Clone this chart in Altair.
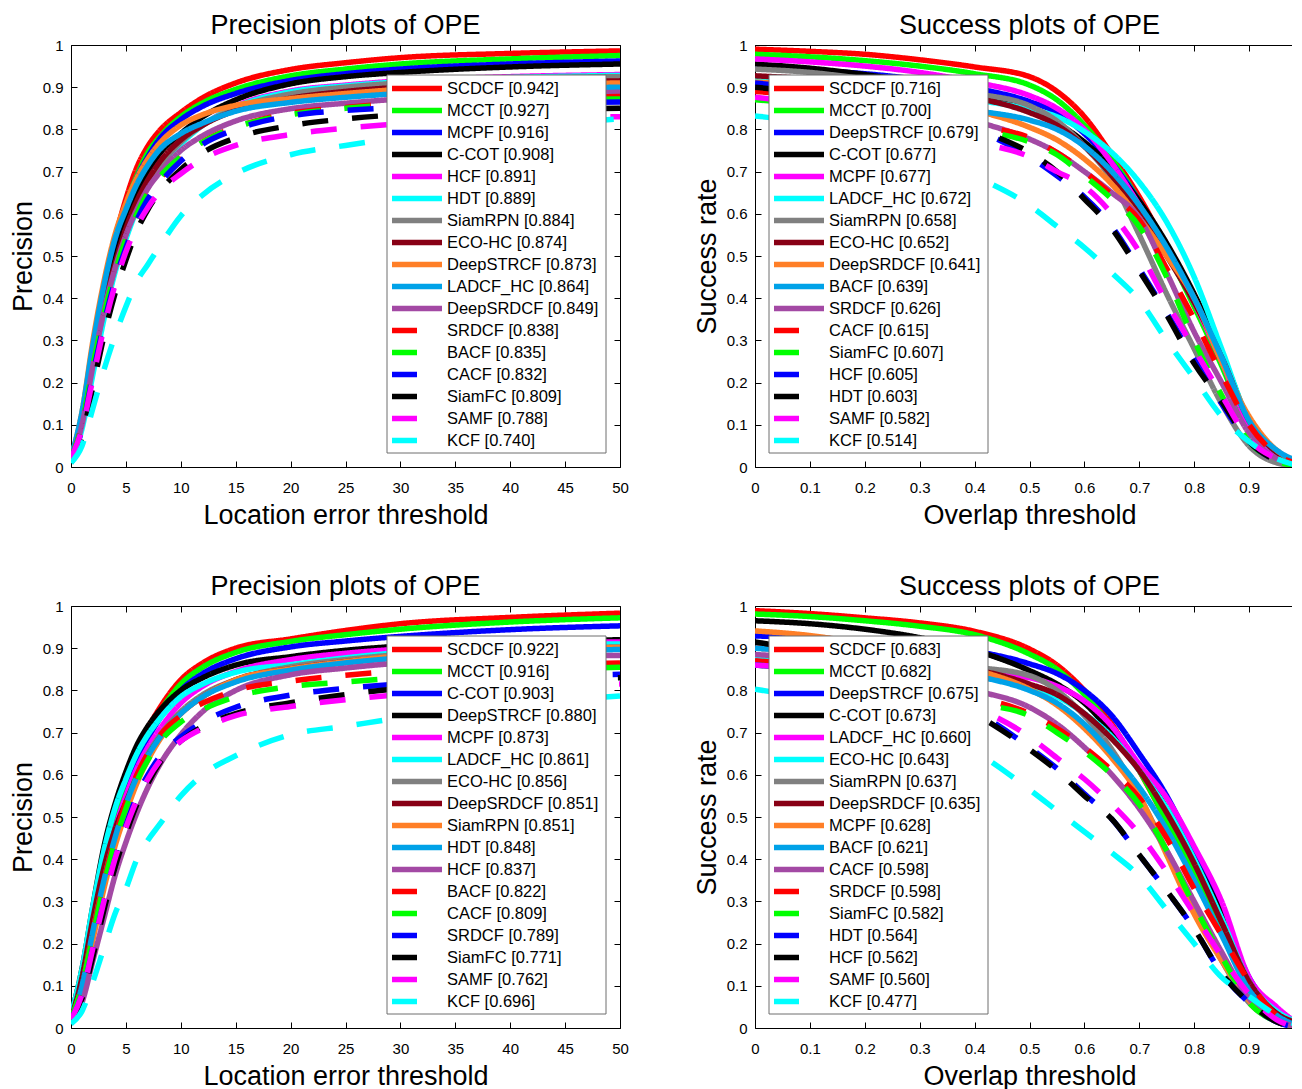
import altair as alt
import pandas as pd

FONT = "Liberation Sans"

# ---------------- styles by rank ----------------
RANK_COLORS = ["#FF0000", "#00FF00", "#0000FF", "#000000", "#FF00FF", "#00FFFF", "#808080",
               "#880015", "#FF7F27", "#00A2E8", "#A349A4",
               "#FF0000", "#00FF00", "#0000FF", "#000000", "#FF00FF", "#00FFFF"]
RANK_DASHED = [False] * 11 + [True] * 6

# ---------------- thresholds / ticks ----------------
PREC_T = [0, 1, 2, 3, 4, 5, 6, 7, 8, 10, 12, 15, 20, 25, 30, 40, 50]
SUCC_T = [0, 0.1, 0.2, 0.3, 0.4, 0.5, 0.55, 0.6, 0.65, 0.7, 0.75, 0.8, 0.85, 0.9, 0.95, 1.0]
PREC_XTICKS = [0, 5, 10, 15, 20, 25, 30, 35, 40, 45, 50]
SUCC_XTICKS = [0, 0.1, 0.2, 0.3, 0.4, 0.5, 0.6, 0.7, 0.8, 0.9, 1]
Y_TICKS = [0, 0.1, 0.2, 0.3, 0.4, 0.5, 0.6, 0.7, 0.8, 0.9, 1]

# ---------------- panel 1: precision (top-left) ----------------
P1_NAMES = ["SCDCF", "MCCT", "MCPF", "C-COT", "HCF", "HDT", "SiamRPN", "ECO-HC", "DeepSTRCF",
            "LADCF_HC", "DeepSRDCF", "SRDCF", "BACF", "CACF", "SiamFC", "SAMF", "KCF"]
P1_SCORES = [0.942, 0.927, 0.916, 0.908, 0.891, 0.889, 0.884, 0.874, 0.873, 0.864, 0.849,
             0.838, 0.835, 0.832, 0.809, 0.788, 0.740]
P1_CURVES = [
    [0.02, 0.12, 0.28, 0.42, 0.54, 0.635, 0.71, 0.76, 0.795, 0.84, 0.875, 0.91, 0.942, 0.958, 0.97, 0.98, 0.986],
    [0.02, 0.12, 0.27, 0.41, 0.53, 0.62, 0.69, 0.745, 0.78, 0.83, 0.863, 0.895, 0.927, 0.943, 0.955, 0.967, 0.975],
    [0.02, 0.12, 0.27, 0.41, 0.525, 0.615, 0.685, 0.735, 0.775, 0.823, 0.855, 0.885, 0.916, 0.932, 0.943, 0.955, 0.962],
    [0.02, 0.11, 0.25, 0.38, 0.49, 0.58, 0.65, 0.70, 0.74, 0.79, 0.83, 0.87, 0.908, 0.925, 0.935, 0.948, 0.955],
    [0.02, 0.10, 0.23, 0.36, 0.47, 0.55, 0.62, 0.67, 0.71, 0.77, 0.81, 0.855, 0.891, 0.905, 0.915, 0.925, 0.93],
    [0.01, 0.09, 0.22, 0.35, 0.46, 0.54, 0.61, 0.665, 0.705, 0.765, 0.81, 0.853, 0.889, 0.903, 0.913, 0.923, 0.928],
    [0.02, 0.11, 0.25, 0.37, 0.47, 0.55, 0.62, 0.67, 0.71, 0.77, 0.81, 0.85, 0.884, 0.90, 0.91, 0.92, 0.925],
    [0.02, 0.11, 0.26, 0.38, 0.48, 0.565, 0.63, 0.68, 0.72, 0.775, 0.81, 0.845, 0.874, 0.89, 0.90, 0.91, 0.915],
    [0.02, 0.13, 0.30, 0.44, 0.55, 0.625, 0.685, 0.73, 0.765, 0.81, 0.835, 0.857, 0.873, 0.885, 0.895, 0.905, 0.91],
    [0.02, 0.13, 0.29, 0.43, 0.54, 0.61, 0.67, 0.715, 0.75, 0.79, 0.815, 0.843, 0.864, 0.876, 0.885, 0.895, 0.90],
    [0.02, 0.10, 0.24, 0.37, 0.47, 0.55, 0.61, 0.66, 0.695, 0.75, 0.785, 0.82, 0.849, 0.862, 0.872, 0.882, 0.888],
    [0.02, 0.10, 0.23, 0.35, 0.45, 0.53, 0.595, 0.645, 0.68, 0.73, 0.77, 0.805, 0.838, 0.852, 0.862, 0.872, 0.878],
    [0.02, 0.10, 0.24, 0.36, 0.46, 0.54, 0.60, 0.65, 0.685, 0.735, 0.77, 0.805, 0.835, 0.85, 0.86, 0.868, 0.872],
    [0.02, 0.09, 0.22, 0.34, 0.44, 0.52, 0.585, 0.635, 0.67, 0.725, 0.765, 0.80, 0.832, 0.845, 0.852, 0.86, 0.865],
    [0.01, 0.07, 0.19, 0.31, 0.41, 0.49, 0.56, 0.61, 0.65, 0.705, 0.745, 0.78, 0.809, 0.825, 0.835, 0.845, 0.85],
    [0.02, 0.09, 0.21, 0.33, 0.43, 0.51, 0.57, 0.615, 0.65, 0.695, 0.73, 0.762, 0.788, 0.803, 0.813, 0.825, 0.83],
    [0.01, 0.05, 0.14, 0.23, 0.31, 0.38, 0.44, 0.48, 0.52, 0.595, 0.645, 0.695, 0.74, 0.762, 0.78, 0.805, 0.825],
]

# ---------------- panel 2: success (top-right) ----------------
P2_NAMES = ["SCDCF", "MCCT", "DeepSTRCF", "C-COT", "MCPF", "LADCF_HC", "SiamRPN", "ECO-HC",
            "DeepSRDCF", "BACF", "SRDCF", "CACF", "SiamFC", "HCF", "HDT", "SAMF", "KCF"]
P2_SCORES = [0.716, 0.700, 0.679, 0.677, 0.677, 0.672, 0.658, 0.652, 0.641, 0.639, 0.626,
             0.615, 0.607, 0.605, 0.603, 0.582, 0.514]
P2_CURVES = [
    [0.99, 0.985, 0.978, 0.965, 0.948, 0.925, 0.89, 0.83, 0.74, 0.64, 0.52, 0.39, 0.25, 0.10, 0.03, 0.0],
    [0.978, 0.972, 0.963, 0.95, 0.932, 0.905, 0.87, 0.81, 0.73, 0.63, 0.51, 0.38, 0.24, 0.09, 0.03, 0.0],
    [0.945, 0.94, 0.932, 0.918, 0.898, 0.866, 0.84, 0.79, 0.72, 0.63, 0.52, 0.40, 0.26, 0.11, 0.03, 0.0],
    [0.955, 0.945, 0.93, 0.91, 0.885, 0.845, 0.815, 0.77, 0.71, 0.63, 0.53, 0.41, 0.27, 0.11, 0.03, 0.0],
    [0.967, 0.96, 0.95, 0.935, 0.912, 0.88, 0.85, 0.80, 0.72, 0.62, 0.51, 0.39, 0.25, 0.10, 0.03, 0.0],
    [0.92, 0.915, 0.905, 0.89, 0.87, 0.848, 0.83, 0.795, 0.745, 0.675, 0.58, 0.45, 0.28, 0.11, 0.035, 0.005],
    [0.943, 0.935, 0.92, 0.905, 0.885, 0.856, 0.82, 0.76, 0.68, 0.55, 0.41, 0.28, 0.15, 0.05, 0.01, 0.0],
    [0.927, 0.92, 0.91, 0.895, 0.875, 0.84, 0.81, 0.76, 0.69, 0.60, 0.50, 0.39, 0.26, 0.11, 0.035, 0.01],
    [0.912, 0.905, 0.89, 0.87, 0.845, 0.805, 0.775, 0.73, 0.67, 0.59, 0.50, 0.40, 0.25, 0.12, 0.04, 0.01],
    [0.896, 0.89, 0.88, 0.865, 0.845, 0.822, 0.80, 0.76, 0.70, 0.62, 0.52, 0.40, 0.26, 0.11, 0.04, 0.01],
    [0.905, 0.895, 0.88, 0.855, 0.82, 0.777, 0.745, 0.70, 0.65, 0.59, 0.46, 0.32, 0.20, 0.08, 0.02, 0.005],
    [0.89, 0.88, 0.865, 0.84, 0.81, 0.78, 0.745, 0.70, 0.645, 0.585, 0.47, 0.35, 0.22, 0.10, 0.03, 0.005],
    [0.87, 0.86, 0.845, 0.825, 0.80, 0.77, 0.74, 0.69, 0.635, 0.57, 0.45, 0.30, 0.17, 0.06, 0.015, 0.0],
    [0.91, 0.895, 0.87, 0.84, 0.80, 0.735, 0.69, 0.64, 0.57, 0.47, 0.365, 0.255, 0.15, 0.06, 0.015, 0.0],
    [0.90, 0.885, 0.86, 0.83, 0.80, 0.745, 0.70, 0.635, 0.565, 0.465, 0.36, 0.245, 0.155, 0.06, 0.015, 0.0],
    [0.876, 0.86, 0.835, 0.80, 0.77, 0.735, 0.70, 0.665, 0.60, 0.51, 0.39, 0.28, 0.17, 0.065, 0.02, 0.0],
    [0.832, 0.815, 0.785, 0.75, 0.69, 0.62, 0.57, 0.52, 0.46, 0.395, 0.30, 0.21, 0.12, 0.06, 0.02, 0.0],
]

# ---------------- panel 3: precision (bottom-left) ----------------
P3_NAMES = ["SCDCF", "MCCT", "C-COT", "DeepSTRCF", "MCPF", "LADCF_HC", "ECO-HC", "DeepSRDCF",
            "SiamRPN", "HDT", "HCF", "BACF", "CACF", "SRDCF", "SiamFC", "SAMF", "KCF"]
P3_SCORES = [0.922, 0.916, 0.903, 0.880, 0.873, 0.861, 0.856, 0.851, 0.851, 0.848, 0.837,
             0.822, 0.809, 0.789, 0.771, 0.762, 0.696]
P3_CURVES = [
    [0.02, 0.11, 0.25, 0.38, 0.49, 0.575, 0.65, 0.71, 0.755, 0.825, 0.865, 0.90, 0.922, 0.942, 0.958, 0.973, 0.983],
    [0.02, 0.11, 0.25, 0.38, 0.49, 0.57, 0.645, 0.70, 0.745, 0.815, 0.855, 0.89, 0.916, 0.932, 0.945, 0.962, 0.972],
    [0.02, 0.10, 0.23, 0.36, 0.47, 0.55, 0.625, 0.685, 0.73, 0.80, 0.84, 0.875, 0.903, 0.917, 0.928, 0.944, 0.953],
    [0.03, 0.14, 0.29, 0.43, 0.53, 0.607, 0.67, 0.715, 0.75, 0.80, 0.83, 0.86, 0.88, 0.895, 0.905, 0.915, 0.92],
    [0.02, 0.10, 0.23, 0.36, 0.47, 0.55, 0.615, 0.665, 0.705, 0.77, 0.81, 0.845, 0.873, 0.888, 0.898, 0.91, 0.915],
    [0.03, 0.14, 0.29, 0.42, 0.52, 0.59, 0.65, 0.695, 0.73, 0.785, 0.815, 0.843, 0.861, 0.877, 0.89, 0.905, 0.91],
    [0.02, 0.10, 0.23, 0.35, 0.45, 0.53, 0.60, 0.65, 0.69, 0.75, 0.79, 0.825, 0.856, 0.873, 0.885, 0.897, 0.903],
    [0.02, 0.12, 0.26, 0.38, 0.47, 0.535, 0.595, 0.645, 0.685, 0.745, 0.785, 0.825, 0.851, 0.868, 0.88, 0.893, 0.90],
    [0.02, 0.09, 0.21, 0.33, 0.43, 0.51, 0.58, 0.635, 0.68, 0.745, 0.785, 0.825, 0.851, 0.868, 0.882, 0.895, 0.902],
    [0.02, 0.10, 0.23, 0.35, 0.45, 0.53, 0.595, 0.645, 0.685, 0.745, 0.785, 0.82, 0.848, 0.865, 0.877, 0.89, 0.897],
    [0.01, 0.06, 0.16, 0.26, 0.36, 0.44, 0.51, 0.57, 0.62, 0.695, 0.75, 0.80, 0.837, 0.853, 0.865, 0.877, 0.883],
    [0.02, 0.10, 0.23, 0.35, 0.45, 0.535, 0.60, 0.65, 0.69, 0.74, 0.77, 0.80, 0.822, 0.836, 0.846, 0.858, 0.865],
    [0.02, 0.10, 0.22, 0.34, 0.44, 0.52, 0.585, 0.635, 0.675, 0.725, 0.755, 0.785, 0.809, 0.82, 0.83, 0.845, 0.855],
    [0.02, 0.08, 0.19, 0.30, 0.40, 0.48, 0.55, 0.60, 0.64, 0.69, 0.725, 0.76, 0.789, 0.805, 0.815, 0.83, 0.838],
    [0.02, 0.07, 0.17, 0.28, 0.38, 0.46, 0.53, 0.58, 0.625, 0.68, 0.715, 0.745, 0.771, 0.79, 0.805, 0.82, 0.83],
    [0.02, 0.08, 0.19, 0.30, 0.40, 0.475, 0.54, 0.59, 0.63, 0.68, 0.71, 0.74, 0.762, 0.778, 0.79, 0.805, 0.815],
    [0.01, 0.04, 0.11, 0.19, 0.27, 0.33, 0.40, 0.445, 0.48, 0.55, 0.60, 0.645, 0.695, 0.715, 0.735, 0.765, 0.787],
]

# ---------------- panel 4: success (bottom-right) ----------------
P4_NAMES = ["SCDCF", "MCCT", "DeepSTRCF", "C-COT", "LADCF_HC", "ECO-HC", "SiamRPN", "DeepSRDCF",
            "MCPF", "BACF", "CACF", "SRDCF", "SiamFC", "HDT", "HCF", "SAMF", "KCF"]
P4_SCORES = [0.683, 0.682, 0.675, 0.673, 0.660, 0.643, 0.637, 0.635, 0.628, 0.621, 0.598,
             0.598, 0.582, 0.564, 0.562, 0.560, 0.477]
P4_CURVES = [
    [0.989, 0.982, 0.972, 0.96, 0.94, 0.898, 0.86, 0.80, 0.72, 0.61, 0.49, 0.37, 0.24, 0.10, 0.03, 0.0],
    [0.981, 0.975, 0.965, 0.952, 0.932, 0.886, 0.85, 0.79, 0.71, 0.61, 0.49, 0.37, 0.24, 0.10, 0.03, 0.0],
    [0.929, 0.925, 0.918, 0.908, 0.893, 0.863, 0.84, 0.80, 0.74, 0.65, 0.55, 0.42, 0.28, 0.12, 0.04, 0.01],
    [0.965, 0.958, 0.945, 0.925, 0.895, 0.847, 0.815, 0.77, 0.70, 0.62, 0.52, 0.40, 0.27, 0.11, 0.03, 0.0],
    [0.865, 0.862, 0.858, 0.852, 0.843, 0.83, 0.81, 0.775, 0.715, 0.625, 0.545, 0.43, 0.30, 0.12, 0.05, 0.0],
    [0.88, 0.875, 0.865, 0.85, 0.835, 0.81, 0.785, 0.745, 0.69, 0.61, 0.52, 0.40, 0.26, 0.11, 0.04, 0.01],
    [0.90, 0.895, 0.885, 0.87, 0.855, 0.835, 0.80, 0.74, 0.66, 0.55, 0.42, 0.29, 0.16, 0.06, 0.015, 0.0],
    [0.90, 0.895, 0.885, 0.87, 0.85, 0.815, 0.79, 0.745, 0.685, 0.61, 0.51, 0.39, 0.25, 0.11, 0.035, 0.01],
    [0.941, 0.93, 0.91, 0.885, 0.85, 0.803, 0.765, 0.71, 0.64, 0.55, 0.41, 0.27, 0.16, 0.065, 0.02, 0.0],
    [0.90, 0.89, 0.875, 0.86, 0.835, 0.80, 0.77, 0.72, 0.65, 0.57, 0.47, 0.35, 0.22, 0.09, 0.03, 0.0],
    [0.885, 0.875, 0.855, 0.83, 0.80, 0.76, 0.72, 0.665, 0.60, 0.52, 0.42, 0.30, 0.18, 0.07, 0.02, 0.0],
    [0.87, 0.86, 0.84, 0.815, 0.785, 0.745, 0.71, 0.665, 0.61, 0.545, 0.45, 0.33, 0.22, 0.11, 0.03, 0.0],
    [0.86, 0.85, 0.83, 0.80, 0.77, 0.74, 0.70, 0.655, 0.60, 0.53, 0.42, 0.29, 0.17, 0.06, 0.015, 0.0],
    [0.86, 0.85, 0.83, 0.80, 0.75, 0.665, 0.615, 0.555, 0.495, 0.41, 0.325, 0.235, 0.13, 0.06, 0.015, 0.0],
    [0.915, 0.89, 0.85, 0.81, 0.745, 0.66, 0.61, 0.55, 0.495, 0.41, 0.325, 0.235, 0.13, 0.06, 0.015, 0.0],
    [0.86, 0.85, 0.83, 0.80, 0.76, 0.69, 0.64, 0.59, 0.53, 0.46, 0.37, 0.27, 0.17, 0.08, 0.02, 0.0],
    [0.803, 0.78, 0.75, 0.71, 0.655, 0.565, 0.515, 0.465, 0.415, 0.36, 0.28, 0.20, 0.12, 0.075, 0.03, 0.0],
]

# ---------------- layout constants ----------------
W, H = 549, 422
LW = 5.5
DASH = [26, 24]
TICK = 6
TITLE_FS = 27

color_scale = alt.Scale(domain=list(range(17)), range=RANK_COLORS)
dash_scale = alt.Scale(domain=list(range(17)),
                       range=[DASH if d else [1, 0] for d in RANK_DASHED])
leg_y_scale = alt.Scale(domain=[0, 16], range=[43.5, 395.5])


def make_panel(names, scores, curves, thresholds, xticks, xdomain, title, xtitle, ytitle, box_left):
    rows = []
    for r, (nm, cv) in enumerate(zip(names, curves)):
        for t, v in zip(thresholds, cv):
            rows.append({"tracker": nm, "rank": r, "t": t, "v": v})
    df = pd.DataFrame(rows)
    leg = pd.DataFrame({
        "rank": list(range(len(names))),
        "label": [f"{n} [{s:.3f}]" for n, s in zip(names, scores)],
        "dashed": RANK_DASHED,
    })
    xscale = alt.Scale(domain=xdomain, nice=False, zero=False)
    yscale = alt.Scale(domain=[0, 1], nice=False)

    lines = alt.Chart(df).mark_line(strokeWidth=LW, clip=True, interpolate="monotone").encode(
        x=alt.X("t:Q", scale=xscale,
                axis=alt.Axis(orient="bottom", values=xticks, format="~g", ticks=False, domain=False,
                              grid=False, labelFontSize=15, labelFont=FONT, labelColor="black",
                              labelPadding=13, labelFlush=False, labelOverlap=False,
                              title=xtitle, titleFont=FONT, titleFontSize=TITLE_FS,
                              titleFontWeight="normal", titleColor="black", titlePadding=7)),
        y=alt.Y("v:Q", scale=yscale,
                axis=alt.Axis(orient="left", values=Y_TICKS, format="~g", ticks=False, domain=False,
                              grid=False, labelFontSize=15, labelFont=FONT, labelColor="black",
                              labelPadding=8, labelOverlap=False, labelFlush=False,
                              title=ytitle, titleFont=FONT, titleFontSize=TITLE_FS,
                              titleFontWeight="normal", titleColor="black", titlePadding=5)),
        color=alt.Color("rank:N", scale=color_scale, legend=None),
        strokeDash=alt.StrokeDash("rank:N", scale=dash_scale, legend=None),
    )

    tick_df = pd.DataFrame({"t": [xdomain[0]], "v": [0.0]})
    ticks_a = alt.Chart(tick_df).mark_point(opacity=0).encode(
        x=alt.X("t:Q", scale=xscale,
                axis=alt.Axis(orient="top", offset=-H, values=xticks, labels=False, ticks=True,
                              tickSize=TICK, tickColor="black", domain=False, grid=False, title=None)),
        y=alt.Y("v:Q", scale=yscale,
                axis=alt.Axis(orient="right", offset=-W, values=Y_TICKS, labels=False, ticks=True,
                              tickSize=TICK, tickColor="black", domain=False, grid=False, title=None)),
    )
    ticks_b = alt.Chart(tick_df).mark_point(opacity=0).encode(
        x=alt.X("t:Q", scale=xscale,
                axis=alt.Axis(orient="bottom", offset=-H, values=xticks, labels=False, ticks=True,
                              tickSize=TICK, tickColor="black", domain=False, grid=False, title=None)),
        y=alt.Y("v:Q", scale=yscale,
                axis=alt.Axis(orient="left", offset=-W, values=Y_TICKS, labels=False, ticks=True,
                              tickSize=TICK, tickColor="black", domain=False, grid=False, title=None)),
    )

    box = alt.Chart(pd.DataFrame({"a": [0]})).mark_rect(
        fill="white", stroke="#6f6f6f", strokeWidth=1).encode(
        x=alt.value(box_left), x2=alt.value(box_left + 219),
        y=alt.value(30), y2=alt.value(408))

    sw_solid = alt.Chart(leg).transform_filter("!datum.dashed").mark_rule(strokeWidth=LW).encode(
        x=alt.value(box_left + 5), x2=alt.value(box_left + 55),
        y=alt.Y("rank:Q", scale=leg_y_scale, axis=None),
        color=alt.Color("rank:N", scale=color_scale, legend=None))
    sw_dash = alt.Chart(leg).transform_filter("datum.dashed").mark_rule(strokeWidth=LW).encode(
        x=alt.value(box_left + 5), x2=alt.value(box_left + 30),
        y=alt.Y("rank:Q", scale=leg_y_scale, axis=None),
        color=alt.Color("rank:N", scale=color_scale, legend=None))
    labels = alt.Chart(leg).mark_text(align="left", baseline="middle", fontSize=16.5,
                                      font=FONT, color="black").encode(
        x=alt.value(box_left + 60),
        y=alt.Y("rank:Q", scale=leg_y_scale, axis=None),
        text="label:N")

    return alt.layer(lines, ticks_a, ticks_b, box, sw_solid, sw_dash, labels).resolve_scale(
        y="independent").resolve_axis(x="independent", y="independent").properties(
        width=W, height=H,
        title=alt.TitleParams(text=title, fontSize=TITLE_FS, fontWeight="normal", font=FONT,
                              color="black", anchor="middle", frame="group",
                              baseline="alphabetic", offset=-23))


p1 = make_panel(P1_NAMES, P1_SCORES, P1_CURVES, PREC_T, PREC_XTICKS, [0, 50],
                "Precision plots of OPE", "Location error threshold", "Precision", 316)
p2 = make_panel(P2_NAMES, P2_SCORES, P2_CURVES, SUCC_T, SUCC_XTICKS, [0, 1],
                "Success plots of OPE", "Overlap threshold", "Success rate", 14)
p3 = make_panel(P3_NAMES, P3_SCORES, P3_CURVES, PREC_T, PREC_XTICKS, [0, 50],
                "Precision plots of OPE", "Location error threshold", "Precision", 316)
p4 = make_panel(P4_NAMES, P4_SCORES, P4_CURVES, SUCC_T, SUCC_XTICKS, [0, 1],
                "Success plots of OPE", "Overlap threshold", "Success rate", 14)

chart = alt.ConcatChart(
    concat=[p1, p2, p3, p4], columns=2,
    spacing={"row": 139, "column": 135}, bounds="flush",
).properties(
    padding={"left": 0, "top": 3, "right": -17, "bottom": 0},
    background="white",
).configure_view(stroke="black", strokeWidth=1)

chart.save("out.html", embed_options={"renderer": "svg", "actions": False})
